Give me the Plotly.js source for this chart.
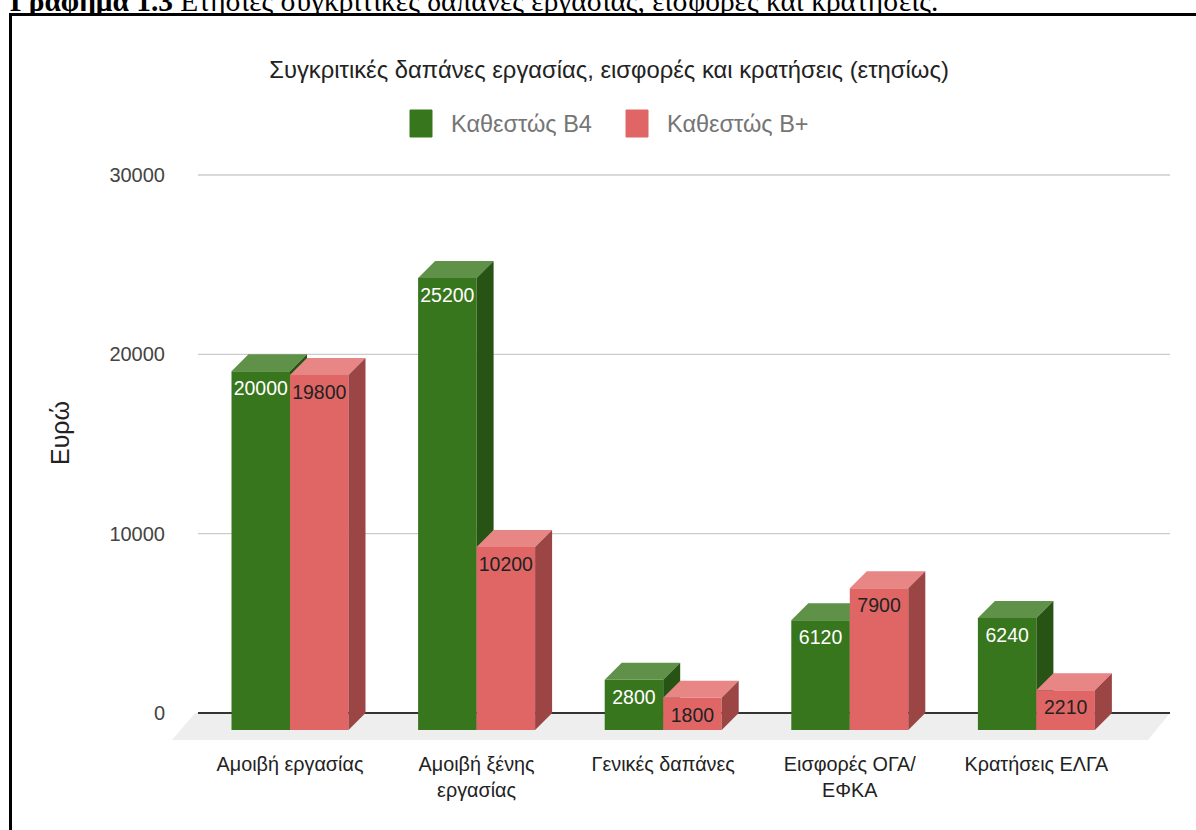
<!DOCTYPE html>
<html>
<head>
<meta charset="utf-8">
<script src="https://cdn.plot.ly/plotly-3.0.1.min.js"></script>
<style>
  html, body { margin: 0; padding: 0; width: 1196px; height: 830px; overflow: hidden; background: #fff; }
  #caption { position: absolute; left: 10px; top: -13px; font-family: "Liberation Serif", "Times New Roman", serif; font-size: 29.4px; line-height: 29px; color: #000; white-space: nowrap; }
  #box { position: absolute; left: 9px; top: 13px; width: 1200px; height: 900px; border: 3px solid #000; background: #fff; box-sizing: border-box; }
  #chart { position: absolute; left: 0; top: 0; width: 1196px; height: 830px; }
</style>
</head>
<body>
<div id="caption"><b>Γράφημα 1.3</b> Ετήσιες συγκριτικές δαπάνες εργασίας, εισφορές και κρατήσεις.</div>
<div id="box"></div>
<div id="chart"></div>
<script>
// ---- data ----
const categories = ['Αμοιβή εργασίας', 'Αμοιβή ξένης<br>εργασίας', 'Γενικές δαπάνες', 'Εισφορές ΟΓΑ/<br>ΕΦΚΑ', 'Κρατήσεις ΕΛΓΑ'];
const seriesNames = ['Καθεστώς Β4', 'Καθεστώς Β+'];
const valuesB4 = [20000, 25200, 2800, 6120, 6240];
const valuesBplus = [19800, 10200, 1800, 7900, 2210];
const yTickVals = [0, 10000, 20000, 30000];
const yTickText = ['0', '10000', '20000', '30000'];
const chartTitle = 'Συγκριτικές δαπάνες εργασίας, εισφορές και κρατήσεις (ετησίως)';
const yTitle = 'Ευρώ';

// ---- layout geometry ----
const FONT = '"Liberation Sans", Arial, sans-serif';
const W = 1196, H = 830;
const M = { l: 172, r: 16, t: 160, b: 80 };
const plotW = W - M.l - M.r, plotH = H - M.t - M.b;
const xRange = [-0.6324, 4.7696];
const yRange = [-2063, 30837];
const xPerPx = (xRange[1] - xRange[0]) / plotW;
const yPerPx = (yRange[1] - yRange[0]) / plotH;
const depthPx = 17;
const dX = depthPx * xPerPx, dY = depthPx * yPerPx;
const barW = 58.5 * xPerPx;
const labelDrop = 19 * yPerPx;

const colors = {
  g: { front: '#38761d', top: '#5f9149', side: '#275414' },
  r: { front: '#e06666', top: '#e88585', side: '#9b4545' }
};

function polys(values, offsetSign) {
  const front = { x: [], y: [] }, top = { x: [], y: [] }, side = { x: [], y: [] };
  values.forEach((v, i) => {
    const x0 = offsetSign < 0 ? i - barW : i;
    const x1 = x0 + barW;
    const yb = -dY, yt = v - dY;
    front.x.push(x0, x1, x1, x0, x0, null); front.y.push(yb, yb, yt, yt, yb, null);
    top.x.push(x0, x0 + dX, x1 + dX, x1, x0, null); top.y.push(yt, v, v, yt, yt, null);
    side.x.push(x1, x1, x1 + dX, x1 + dX, x1, null); side.y.push(yb, yt, v, 0, yb, null);
  });
  return { front, top, side };
}

function faceTrace(p, color, name) {
  return { type: 'scatter', mode: 'lines', x: p.x, y: p.y, fill: 'toself', fillcolor: color,
           line: { width: 0, color: color }, hoverinfo: 'skip', showlegend: false, name: name };
}

const gP = polys(valuesB4, -1);
const rP = polys(valuesBplus, 1);

const traces = [
  faceTrace(gP.front, colors.g.front, seriesNames[0]),
  faceTrace(gP.top, colors.g.top, seriesNames[0]),
  faceTrace(gP.side, colors.g.side, seriesNames[0]),
  faceTrace(rP.front, colors.r.front, seriesNames[1]),
  faceTrace(rP.top, colors.r.top, seriesNames[1]),
  faceTrace(rP.side, colors.r.side, seriesNames[1]),
  { type: 'scatter', mode: 'text', x: valuesB4.map((v, i) => i - barW / 2), y: valuesB4.map(v => v - dY - labelDrop),
    text: valuesB4.map(String), textposition: 'middle center',
    textfont: { family: FONT, size: 19.5, color: '#ffffff' }, hoverinfo: 'skip', showlegend: false },
  { type: 'scatter', mode: 'text', x: valuesBplus.map((v, i) => i + barW / 2), y: valuesBplus.map(v => v - dY - labelDrop),
    text: valuesBplus.map(String), textposition: 'middle center',
    textfont: { family: FONT, size: 19.5, color: '#222222' }, hoverinfo: 'skip', showlegend: false }
];

// pixel helpers for non-data decorations
const xd = px => xRange[0] + (px - M.l) * xPerPx;
const yd = py => yRange[0] + (M.t + plotH - py) * yPerPx;
const xp = px => (px - M.l) / plotW;
const yp = py => (M.t + plotH - py) / plotH;

const shapes = [
  // floor
  { type: 'path', xref: 'x', yref: 'y', layer: 'below', line: { width: 0 }, fillcolor: '#eeeeee',
    path: `M ${xd(195)} ${yd(713)} L ${xd(1170)} ${yd(713)} L ${xd(1148)} ${yd(740)} L ${xd(172)} ${yd(740)} Z` }
];
yTickVals.forEach(v => {
  shapes.push({ type: 'line', xref: 'x', yref: 'y', layer: 'below', x0: xd(198), x1: xd(1170), y0: v, y1: v,
    line: { color: v === 0 ? '#333333' : '#cccccc', width: v === 0 ? 2 : 1.3 } });
});
// legend swatches
const legendItems = [
  { sx: 410, tx: 449, color: colors.g.front, name: seriesNames[0] },
  { sx: 626, tx: 665, color: colors.r.front, name: seriesNames[1] }
];
const annotations = [];
legendItems.forEach(it => {
  const x0 = xp(it.sx), x1 = xp(it.sx + 22), y0 = yp(137), y1 = yp(110);
  shapes.push({ type: 'rect', xref: 'paper', yref: 'paper', x0: x0, x1: x1, y0: y0, y1: y1,
    fillcolor: it.color, line: { width: 1, color: it.color } });
  annotations.push({ xref: 'paper', yref: 'paper', x: xp(it.tx), y: yp(124), xanchor: 'left', yanchor: 'middle',
    text: it.name, showarrow: false, font: { family: FONT, size: 23.5, color: '#757575' } });
});
annotations.push({ xref: 'paper', yref: 'paper', x: xp(60), y: yp(433), xanchor: 'center', yanchor: 'middle', textangle: -90,
  text: yTitle, showarrow: false, font: { family: FONT, size: 25, color: '#222222' } });

const layout = {
  width: W, height: H, margin: M,
  paper_bgcolor: 'rgba(0,0,0,0)', plot_bgcolor: 'rgba(0,0,0,0)',
  showlegend: false,
  title: { text: chartTitle, x: 609 / W, xanchor: 'center', xref: 'container', yref: 'container', y: 1 - 70 / H, yanchor: 'middle',
           font: { family: FONT, size: 23.8, color: '#222222' } },
  xaxis: { range: xRange, showgrid: false, zeroline: false, showline: false, ticks: '',
           tickmode: 'array', tickvals: categories.map((c, i) => i), ticktext: categories,
           tickfont: { family: FONT, size: 19.8, color: '#222222' }, fixedrange: true, title: { text: '' } },
  yaxis: { range: yRange, showgrid: false, zeroline: false, showline: false, ticks: '',
           tickmode: 'array', tickvals: yTickVals, ticktext: yTickText, ticklabelstandoff: 6,
           tickfont: { family: FONT, size: 20, color: '#444444' }, fixedrange: true, title: { text: '' } },
  shapes: shapes,
  annotations: annotations
};

Plotly.newPlot('chart', traces, layout, { staticPlot: true, displayModeBar: false });
</script>
</body>
</html>
